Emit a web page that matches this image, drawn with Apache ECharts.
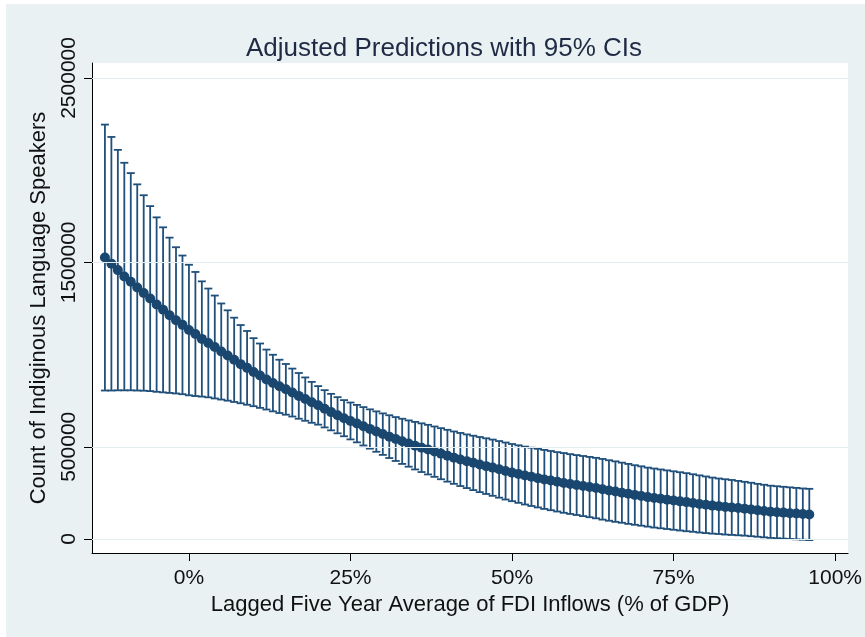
<!DOCTYPE html>
<html>
<head>
<meta charset="utf-8">
<script src="https://cdn.jsdelivr.net/npm/echarts@6/dist/echarts.min.js"></script>
<style>
html,body{margin:0;padding:0;background:#ffffff;}
#chart{position:absolute;left:6px;top:4px;width:859px;height:633px;background:#e9f1f3;}
</style>
</head>
<body>
<div id="chart"></div>
<script>
// x values: lagged five-year average FDI inflows (% of GDP)
const xPct = [-13,-12,-11,-10,-9,-8,-7,-6,-5,-4,-3,-2,-1,
  0,1,2,3,4,5,6,7,8,9,10,11,12,13,14,15,16,17,18,19,20,21,22,23,24,25,26,27,28,29,
  30,31,32,33,34,35,36,37,38,39,40,41,42,43,44,45,46,47,48,49,50,51,52,53,54,55,56,57,58,59,
  60,61,62,63,64,65,66,67,68,69,70,71,72,73,74,75,76,77,78,79,80,81,82,83,84,85,86,87,88,89,
  90,91,92,93,94,95,96];
// Adjusted predictions (thousands of speakers)
const predK = [1526,1493,1458,1423,1395,1364,1334,1304,1271,1243,1213,1186,1161,
  1133,1112,1085,1063,1041,1017,995,972,948,928,
  905,886,865,846,828,812,794,776,759,741,
  725,706,688,671,655,640,626,611,597,583,
  569,555,542,530,518,506,495,485,474,463,
  452,441,431,422,413,404,395,387,378,369,
  360,352,344,337,330,323,317,310,304,298,
  293,287,282,276,270,263,257,251,245,239,
  233,227,222,218,213,209,204,200,195,190,
  186,181,178,174,171,168,164,160,156,152,
  148,145,143,140,138,135,133];
// Upper 95% CI (thousands)
const upperK = [2247,2180,2110,2040,1984,1923,1864,1805,1744,1690,1634,1582,1537,
  1487,1448,1397,1358,1320,1277,1240,1200,1160,1128,
  1089,1060,1027,999,972,949,924,900,876,852,
  829,807,787,769,753,740,727,715,703,692,
  681,671,661,652,643,635,627,619,610,601,
  592,583,575,567,560,553,546,539,531,523,
  515,508,501,495,489,483,477,471,466,460,
  455,450,445,440,434,427,421,414,407,400,
  394,387,382,377,372,367,362,357,351,345,
  339,333,328,324,320,315,310,305,299,294,
  289,286,283,280,277,274,272];
// Lower 95% CI (thousands)
const lowerK = [805,805,806,806,806,805,804,802,798,795,792,789,785,
  779,775,772,768,762,756,750,743,736,728,
  720,711,702,692,683,674,664,652,641,630,
  620,605,589,573,557,540,524,507,490,473,
  456,439,423,407,392,377,363,350,337,324,
  311,299,287,276,265,254,244,234,224,214,
  205,196,187,179,171,163,156,149,142,136,
  130,124,118,112,105,99,93,88,82,77,
  72,67,62,58,54,50,46,42,39,35,
  32,29,27,24,22,20,18,15,12,9,
  6,4,2,0,-2,-4,-6];
const yTickValues = [0, 500000, 1500000, 2500000];
const xTickValues = [0, 25, 50, 75, 100];

const navy = '#1a476f';
const predData = xPct.map((x, i) => [x, predK[i] * 1000]);
const ciData = xPct.map((x, i) => [x, lowerK[i] * 1000, upperK[i] * 1000]);

const chart = echarts.init(document.getElementById('chart'), null, {renderer: 'canvas'});
const font = '"Liberation Sans", Arial, sans-serif';

chart.setOption({
  backgroundColor: 'transparent',
  animation: false,
  title: {
    text: 'Adjusted Predictions with 95% CIs',
    left: 433, top: 27, textAlign: 'center',
    textStyle: {fontFamily: font, fontSize: 26, fontWeight: 'normal', color: '#1f2a44'}
  },
  grid: {
    left: 86, top: 59, right: 15, bottom: 84,
    show: true, backgroundColor: '#ffffff', borderWidth: 0
  },
  xAxis: {
    type: 'value', min: -15, max: 102,
    name: 'Lagged Five Year Average of FDI Inflows (% of GDP)',
    nameLocation: 'middle', nameGap: 38,
    nameTextStyle: {fontFamily: font, fontSize: 22, color: '#111'},
    axisLine: {show: true, onZero: false, lineStyle: {color: '#000', width: 1}},
    axisTick: {show: true, length: 8, customValues: xTickValues, lineStyle: {color: '#000'}},
    axisLabel: {customValues: xTickValues, margin: 15, fontFamily: font, fontSize: 21, color: '#111',
      formatter: v => v + '%'},
    splitLine: {show: false}
  },
  yAxis: {
    type: 'value', min: -76000, max: 2581000,
    name: 'Count of Indiginous Language Speakers',
    nameLocation: 'middle', nameGap: 42,
    nameTextStyle: {fontFamily: font, fontSize: 22, color: '#111'},
    axisLine: {show: true, onZero: false, lineStyle: {color: '#000', width: 1}},
    axisTick: {show: true, length: 8, customValues: yTickValues, lineStyle: {color: '#000'}},
    axisLabel: {customValues: yTickValues, rotate: 90, margin: 12, fontFamily: font, fontSize: 21, color: '#111',
      formatter: v => String(v)},
    splitLine: {show: false}
  },
  series: [
    {
      type: 'line', data: [], silent: true, z: 1,
      markLine: {
        silent: true, symbol: ['none', 'none'], label: {show: false},
        lineStyle: {color: '#e3eef0', width: 1.2, type: 'solid'},
        data: yTickValues.map(v => ({yAxis: v}))
      }
    },
    {
      type: 'custom', z: 2,
      data: ciData,
      encode: {x: 0, y: [1, 2]},
      renderItem: function (params, api) {
        const x = api.value(0);
        const lo = api.coord([x, api.value(1)]);
        const hi = api.coord([x, api.value(2)]);
        const cw = 4;
        const style = {stroke: '#1f4f7a', lineWidth: 1.8, fill: null};
        return {
          type: 'group',
          children: [
            {type: 'line', shape: {x1: lo[0], y1: lo[1], x2: hi[0], y2: hi[1]}, style: style},
            {type: 'line', shape: {x1: hi[0] - cw, y1: hi[1], x2: hi[0] + cw, y2: hi[1]}, style: style},
            {type: 'line', shape: {x1: lo[0] - cw, y1: lo[1], x2: lo[0] + cw, y2: lo[1]}, style: style}
          ]
        };
      }
    },
    {
      type: 'line', z: 3,
      data: predData,
      symbol: 'circle', symbolSize: 10,
      lineStyle: {color: navy, width: 4},
      itemStyle: {color: navy},
      silent: true
    }
  ]
});
</script>
</body>
</html>
